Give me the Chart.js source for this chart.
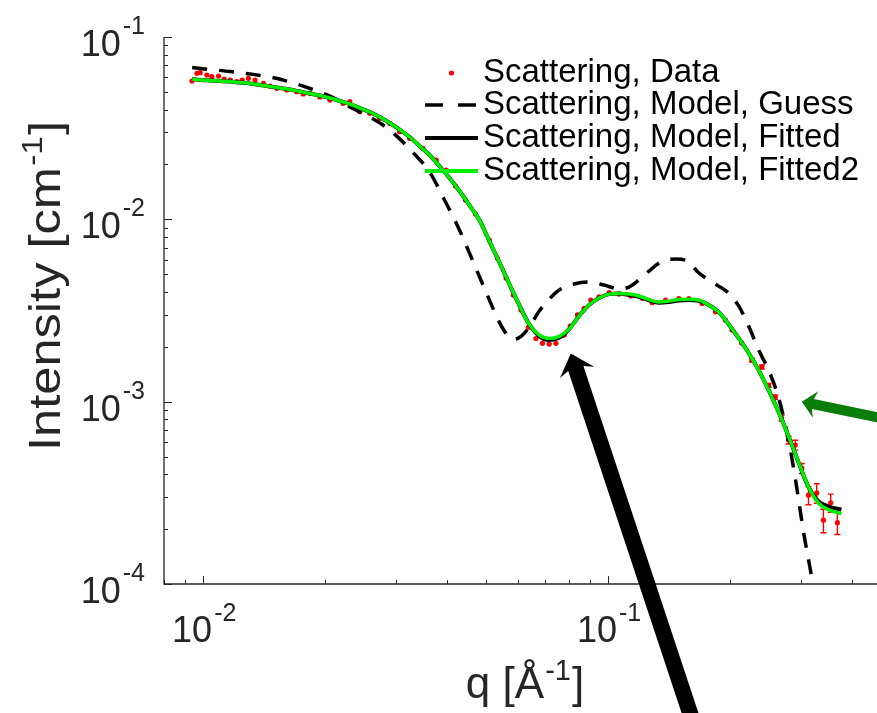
<!DOCTYPE html>
<html lang="en">
<head>
<meta charset="UTF-8">
<title>Scattering fit</title>
<script src="https://cdn.jsdelivr.net/npm/chart.js@4.4.1/dist/chart.umd.min.js"></script>
<style>
  html, body { margin: 0; padding: 0; background: #fff; overflow: hidden; }
  #wrap { width: 895px; height: 713px; }
</style>
</head>
<body>
<div id="wrap"><canvas id="chart" width="895" height="713"></canvas></div>
<script>
// measured data (q in 1/A, intensity in 1/cm)
const qData = [0.00938, 0.00965, 0.00983, 0.01021, 0.01050, 0.01091, 0.01126, 0.01166, 0.01211, 0.01248,
  0.01293, 0.01343, 0.01408, 0.01462, 0.01519, 0.01607, 0.01701, 0.01766, 0.01835, 0.01942,
  0.02055, 0.02215, 0.02302, 0.02436, 0.02578, 0.02729, 0.02888, 0.03056, 0.03235, 0.03488,
  0.03763, 0.03982, 0.04201, 0.04445, 0.04704, 0.05091, 0.05328, 0.05598, 0.05834, 0.06095,
  0.06353, 0.06636, 0.06888, 0.07155, 0.07432, 0.07793, 0.08062, 0.08403, 0.08728, 0.09065,
  0.09501, 0.1006, 0.1064, 0.1137, 0.1215, 0.1286, 0.1387, 0.1496, 0.1583, 0.1707,
  0.1842, 0.1950, 0.2024, 0.2138, 0.2266, 0.2399, 0.2492, 0.2588, 0.2683, 0.2791,
  0.2900, 0.3011, 0.3127, 0.3277, 0.3404, 0.3548, 0.3686]
const iData = [0.05737, 0.06323, 0.06371, 0.06188, 0.06056, 0.06110, 0.05884, 0.05810, 0.05686, 0.05810,
  0.05934, 0.05810, 0.05572, 0.05383, 0.05233, 0.05121, 0.05012, 0.04869, 0.04913, 0.04688,
  0.04510, 0.04328, 0.04416, 0.03892, 0.03815, 0.03581, 0.03362, 0.03022, 0.02781, 0.02452,
  0.02114, 0.01864, 0.01523, 0.01276, 0.01069, 0.00770, 0.00613, 0.00476, 0.00384, 0.00318,
  0.00256, 0.00222, 0.00209, 0.00207, 0.00209, 0.00232, 0.00260, 0.00299, 0.00325, 0.00361,
  0.00376, 0.00396, 0.00389, 0.00380, 0.00369, 0.00349, 0.00361, 0.00367, 0.00367, 0.00346,
  0.00311, 0.00280, 0.00247, 0.00210, 0.00169, 0.00155, 0.00123, 0.00106, 0.000813, 0.000616,
  0.000578, 0.000431, 0.000307, 0.000316, 0.000224, 0.000279, 0.000217]
const iErr = [0, 0, 0, 0, 0, 0, 0, 0, 0, 0,
  0, 0, 0, 0, 0, 0, 0, 0, 0, 0,
  0, 0, 0, 0, 0, 0, 0, 0, 0, 0,
  0, 0, 0, 0, 0, 0, 0, 0, 0, 0,
  0, 0, 0, 0, 0, 0, 0, 0, 0, 0,
  0, 0, 0, 0, 0, 0, 0, 0, 0, 0,
  0, 0, 0, 0, 0.00004, 0.00004, 0.00003, 0.00003, 0.00003, 0.00003,
  0.000036, 0.000027, 0.000035, 0.000039, 0.000033, 0.000032, 0.000030]

const qGuess = [0.00939, 0.01040, 0.01166, 0.01305, 0.01462, 0.01638, 0.01835, 0.02055, 0.02302, 0.02578,
  0.02888, 0.03235, 0.03623, 0.03945, 0.04295, 0.04624, 0.05008, 0.05388, 0.05638, 0.05868,
  0.06106, 0.06387, 0.06761, 0.07155, 0.07572, 0.08246, 0.08976, 0.09775, 0.1064, 0.1126,
  0.1192, 0.1262, 0.1351, 0.1471, 0.1583, 0.1666, 0.1804, 0.1986, 0.2102, 0.2225,
  0.2355, 0.2492, 0.2638, 0.2791, 0.2905, 0.3040, 0.3162, 0.3235]
const iGuess = [0.06803, 0.06633, 0.06467, 0.06266, 0.06033, 0.05664, 0.05220, 0.04746, 0.04130, 0.03640,
  0.03090, 0.02430, 0.01817, 0.01276, 0.00874, 0.00598, 0.00394, 0.00273, 0.00232, 0.00220,
  0.00229, 0.00256, 0.00314, 0.00365, 0.00410, 0.00442, 0.00453, 0.00436, 0.00415, 0.00425,
  0.00465, 0.00520, 0.00583, 0.00606, 0.00583, 0.00514, 0.00453, 0.00394, 0.00335, 0.00260,
  0.00192, 0.00149, 0.00105, 0.000616, 0.000372, 0.000193, 0.000119, 0.0000903]

const qFit = [0.00939, 0.00983, 0.01040, 0.01101, 0.01166, 0.01234, 0.01305, 0.01382, 0.01462, 0.01548,
  0.01638, 0.01734, 0.01835, 0.01942, 0.02055, 0.02175, 0.02302, 0.02436, 0.02578, 0.02729,
  0.02888, 0.03056, 0.03235, 0.03423, 0.03623, 0.03834, 0.04058, 0.04295, 0.04545, 0.04811,
  0.05091, 0.05388, 0.05703, 0.06035, 0.06387, 0.06761, 0.07155, 0.07572, 0.08014, 0.08481,
  0.08976, 0.09501, 0.1006, 0.1064, 0.1126, 0.1192, 0.1262, 0.1335, 0.1413, 0.1496,
  0.1583, 0.1675, 0.1773, 0.1877, 0.1986, 0.2102, 0.2225, 0.2355, 0.2492, 0.2638,
  0.2791, 0.2954, 0.3127, 0.3309, 0.3502, 0.3771]
const iFit = [0.05884, 0.05810, 0.05774, 0.05737, 0.05701, 0.05629, 0.05559, 0.05455, 0.05353, 0.05252,
  0.05152, 0.05024, 0.04898, 0.04776, 0.04627, 0.04455, 0.04290, 0.04079, 0.03878, 0.03640,
  0.03375, 0.03109, 0.02828, 0.02524, 0.02253, 0.01960, 0.01685, 0.01430, 0.01197, 0.00991,
  0.00760, 0.00583, 0.00442, 0.00339, 0.00266, 0.00229, 0.00218, 0.00224, 0.00250, 0.00295,
  0.00339, 0.00370, 0.00389, 0.00392, 0.00385, 0.00376, 0.00360, 0.00349, 0.00352, 0.00359,
  0.00361, 0.00358, 0.00339, 0.00310, 0.00266, 0.00223, 0.00185, 0.00149, 0.00116, 0.000877,
  0.000648, 0.000466, 0.000341, 0.000285, 0.000266, 0.000256]
const iFit2 = [0.05884, 0.05810, 0.05774, 0.05737, 0.05701, 0.05629, 0.05559, 0.05455, 0.05353, 0.05252,
  0.05152, 0.05024, 0.04898, 0.04776, 0.04627, 0.04455, 0.04290, 0.04079, 0.03878, 0.03640,
  0.03375, 0.03109, 0.02828, 0.02524, 0.02253, 0.01960, 0.01685, 0.01430, 0.01197, 0.00991,
  0.00760, 0.00583, 0.00442, 0.00339, 0.00266, 0.00232, 0.00222, 0.00228, 0.00250, 0.00295,
  0.00339, 0.00370, 0.00389, 0.00392, 0.00389, 0.00380, 0.00363, 0.00352, 0.00356, 0.00363,
  0.00365, 0.00361, 0.00339, 0.00310, 0.00266, 0.00223, 0.00185, 0.00149, 0.00116, 0.000877,
  0.000648, 0.000466, 0.000341, 0.000278, 0.000256, 0.000243]

const legendLabels = ['Scattering, Data', 'Scattering, Model, Guess', 'Scattering, Model, Fitted', 'Scattering, Model, Fitted2']
const xTicks = [0.01, 0.1]
const xTickExp = ['-2', '-1']
const yTicks = [1e-4, 1e-3, 1e-2, 1e-1]
const yTickExp = ['-4', '-3', '-2', '-1']

// annotation arrows, [q, I] of tail and tip
const blackArrow = { from: [0.1656, 1.52e-5], to: [0.0809, 0.00184] }
const greenArrow = { from: [0.5, 0.000792], to: [0.3011, 0.000999] }

const family = '"Liberation Sans", Arial, Helvetica, sans-serif'
const axisColor = '#262626'

function pts(xs, ys) {
  return xs.map((x, i) => ({ x: x, y: ys[i] }))
}

function drawArrow(ctx, x0, y0, x1, y1, shaft, headW, headL, color) {
  const len = Math.hypot(x0 - x1, y0 - y1)
  const ux = (x0 - x1) / len, uy = (y0 - y1) / len
  const vx = -uy, vy = ux
  const p = (u, v) => [x1 + ux * u + vx * v, y1 + uy * u + vy * v]
  const poly = [p(0, 0), p(headL, headW / 2), p(headL * 0.8, shaft / 2), p(len, shaft / 2),
    p(len, -shaft / 2), p(headL * 0.8, -shaft / 2), p(headL, -headW / 2)]
  ctx.fillStyle = color
  ctx.beginPath()
  poly.forEach((pt, i) => i ? ctx.lineTo(pt[0], pt[1]) : ctx.moveTo(pt[0], pt[1]))
  ctx.closePath()
  ctx.fill()
}

function powLabel(ctx, exp, x, base, supBase, align) {
  ctx.font = '36px ' + family
  const w10 = ctx.measureText('10').width
  ctx.font = '25px ' + family
  const ws = ctx.measureText(exp).width
  const total = w10 + 2 + ws
  const x0 = align === 'right' ? x - total : x - total / 2
  ctx.font = '36px ' + family
  ctx.fillText('10', x0, base)
  ctx.font = '25px ' + family
  ctx.fillText(exp, x0 + w10 + 2, supBase)
}

function supText(ctx, pre, sup, post, size) {
  ctx.font = size + 'px ' + family
  const w1 = ctx.measureText(pre).width
  const w3 = ctx.measureText(post).width
  ctx.font = Math.round(size * 0.65) + 'px ' + family
  const w2 = ctx.measureText(sup).width
  let x = -(w1 + w2 + w3 + 2) / 2
  ctx.font = size + 'px ' + family
  ctx.fillText(pre, x, 0)
  x += w1 + 1
  ctx.font = Math.round(size * 0.65) + 'px ' + family
  ctx.fillText(sup, x, -size * 0.4)
  x += w2 + 1
  ctx.font = size + 'px ' + family
  ctx.fillText(post, x, 0)
}

const errorBars = {
  id: 'errorBars',
  beforeDatasetsDraw(chart) {
    const { ctx, chartArea } = chart
    const x = chart.scales.x, y = chart.scales.y
    ctx.save()
    ctx.beginPath()
    ctx.rect(chartArea.left, chartArea.top, chartArea.width, chartArea.height)
    ctx.clip()
    ctx.strokeStyle = '#ff0000'
    ctx.lineWidth = 1.4
    qData.forEach((q, i) => {
      const e = iErr[i]
      if (!e) return
      const px = x.getPixelForValue(q)
      const top = y.getPixelForValue(iData[i] + e)
      const bot = y.getPixelForValue(iData[i] - e)
      ctx.beginPath()
      ctx.moveTo(px, top); ctx.lineTo(px, bot)
      ctx.moveTo(px - 3, top); ctx.lineTo(px + 3, top)
      ctx.moveTo(px - 3, bot); ctx.lineTo(px + 3, bot)
      ctx.stroke()
    })
    ctx.restore()
  }
}

const decorations = {
  id: 'decorations',
  afterDraw(chart) {
    const { ctx, chartArea } = chart
    const x = chart.scales.x, y = chart.scales.y
    const left = chartArea.left, bottom = chartArea.bottom
    ctx.save()

    // axes
    ctx.strokeStyle = axisColor
    ctx.lineWidth = 1.3
    ctx.beginPath()
    ctx.moveTo(left, chartArea.top)
    ctx.lineTo(left, bottom)
    ctx.lineTo(chartArea.right, bottom)
    ctx.stroke()

    // ticks, pointing inwards
    ctx.lineWidth = 1
    ctx.beginPath()
    for (let k = -4; k <= -1; k++) {
      for (let m = 1; m <= 9; m++) {
        const v = m * Math.pow(10, k)
        if (v < 1e-4 * 0.999 || v > 0.1 * 1.001) continue
        const py = Math.round(y.getPixelForValue(v)) + 0.5
        ctx.moveTo(left, py)
        ctx.lineTo(left + (m === 1 ? 8 : 4), py)
      }
    }
    for (let k = -3; k <= -1; k++) {
      for (let m = 1; m <= 9; m++) {
        const v = m * Math.pow(10, k)
        if (v < 0.008 * 0.999 || v > 0.5 * 1.001) continue
        const px = Math.round(x.getPixelForValue(v)) + 0.5
        ctx.moveTo(px, bottom)
        ctx.lineTo(px, bottom - (m === 1 ? 8 : 4))
      }
    }
    ctx.stroke()

    // tick labels
    ctx.fillStyle = axisColor
    ctx.textBaseline = 'alphabetic'
    ctx.textAlign = 'left'
    yTicks.forEach((v, i) => {
      const py = y.getPixelForValue(v)
      powLabel(ctx, yTickExp[i], left - 19, py + 19, py - 3, 'right')
    })
    xTicks.forEach((v, i) => {
      const px = x.getPixelForValue(v)
      powLabel(ctx, xTickExp[i], px + 1, bottom + 58, bottom + 37, 'center')
    })

    // axis titles
    ctx.save()
    ctx.translate(60, 286)
    ctx.rotate(-Math.PI / 2)
    ctx.scale(1.15, 1)
    supText(ctx, 'Intensity [cm', '-1', ']', 44)
    ctx.restore()
    ctx.save()
    ctx.translate(525, 698)
    supText(ctx, 'q [Å', '-1', ']', 44)
    ctx.restore()

    // legend
    const rows = [73, 105, 138, 171]
    const x0 = 425, x1 = 478
    ctx.fillStyle = '#ff0000'
    ctx.beginPath()
    ctx.arc((x0 + x1) / 2, rows[0], 2.6, 0, Math.PI * 2)
    ctx.fill()
    const styles = [null, ['#000', 3.5, [18, 15]], ['#000', 4, []], ['#00ee00', 4, []]]
    for (let i = 1; i < 4; i++) {
      ctx.strokeStyle = styles[i][0]
      ctx.lineWidth = styles[i][1]
      ctx.setLineDash(styles[i][2])
      ctx.beginPath()
      ctx.moveTo(x0, rows[i])
      ctx.lineTo(x1, rows[i])
      ctx.stroke()
    }
    ctx.setLineDash([])
    ctx.fillStyle = '#000'
    ctx.font = '33px ' + family
    legendLabels.forEach((t, i) => ctx.fillText(t, 483, rows[i] + 9))

    // arrows
    const a = blackArrow
    drawArrow(ctx, x.getPixelForValue(a.from[0]), y.getPixelForValue(a.from[1]),
      x.getPixelForValue(a.to[0]), y.getPixelForValue(a.to[1]), 16, 36, 20, '#000')
    const g = greenArrow
    drawArrow(ctx, x.getPixelForValue(g.from[0]), y.getPixelForValue(g.from[1]),
      x.getPixelForValue(g.to[0]), y.getPixelForValue(g.to[1]), 10, 27, 14, '#0a7d0a')

    ctx.restore()
  }
}

new Chart(document.getElementById('chart'), {
  type: 'line',
  data: {
    datasets: [
      {
        label: legendLabels[0], data: pts(qData, iData), showLine: false,
        pointRadius: 2.6, pointBackgroundColor: '#ff0000', pointBorderWidth: 0, order: 4
      },
      {
        label: legendLabels[1], data: pts(qGuess, iGuess), borderColor: '#000', borderWidth: 3.5,
        borderDash: [15, 12], pointRadius: 0, cubicInterpolationMode: 'monotone', order: 3
      },
      {
        label: legendLabels[2], data: pts(qFit, iFit), borderColor: '#000', borderWidth: 4,
        pointRadius: 0, cubicInterpolationMode: 'monotone', order: 2
      },
      {
        label: legendLabels[3], data: pts(qFit, iFit2), borderColor: '#00ee00', borderWidth: 3.5,
        pointRadius: 0, cubicInterpolationMode: 'monotone', order: 1
      }
    ]
  },
  options: {
    responsive: false,
    animation: false,
    layout: { padding: { left: 164, top: 37, right: 2, bottom: 129 } },
    plugins: { legend: { display: false }, tooltip: { enabled: false } },
    scales: {
      x: { type: 'logarithmic', min: 0.008, max: 0.5, display: false },
      y: { type: 'logarithmic', min: 1e-4, max: 1e-1, display: false }
    }
  },
  plugins: [errorBars, decorations]
})
</script>
</body>
</html>
